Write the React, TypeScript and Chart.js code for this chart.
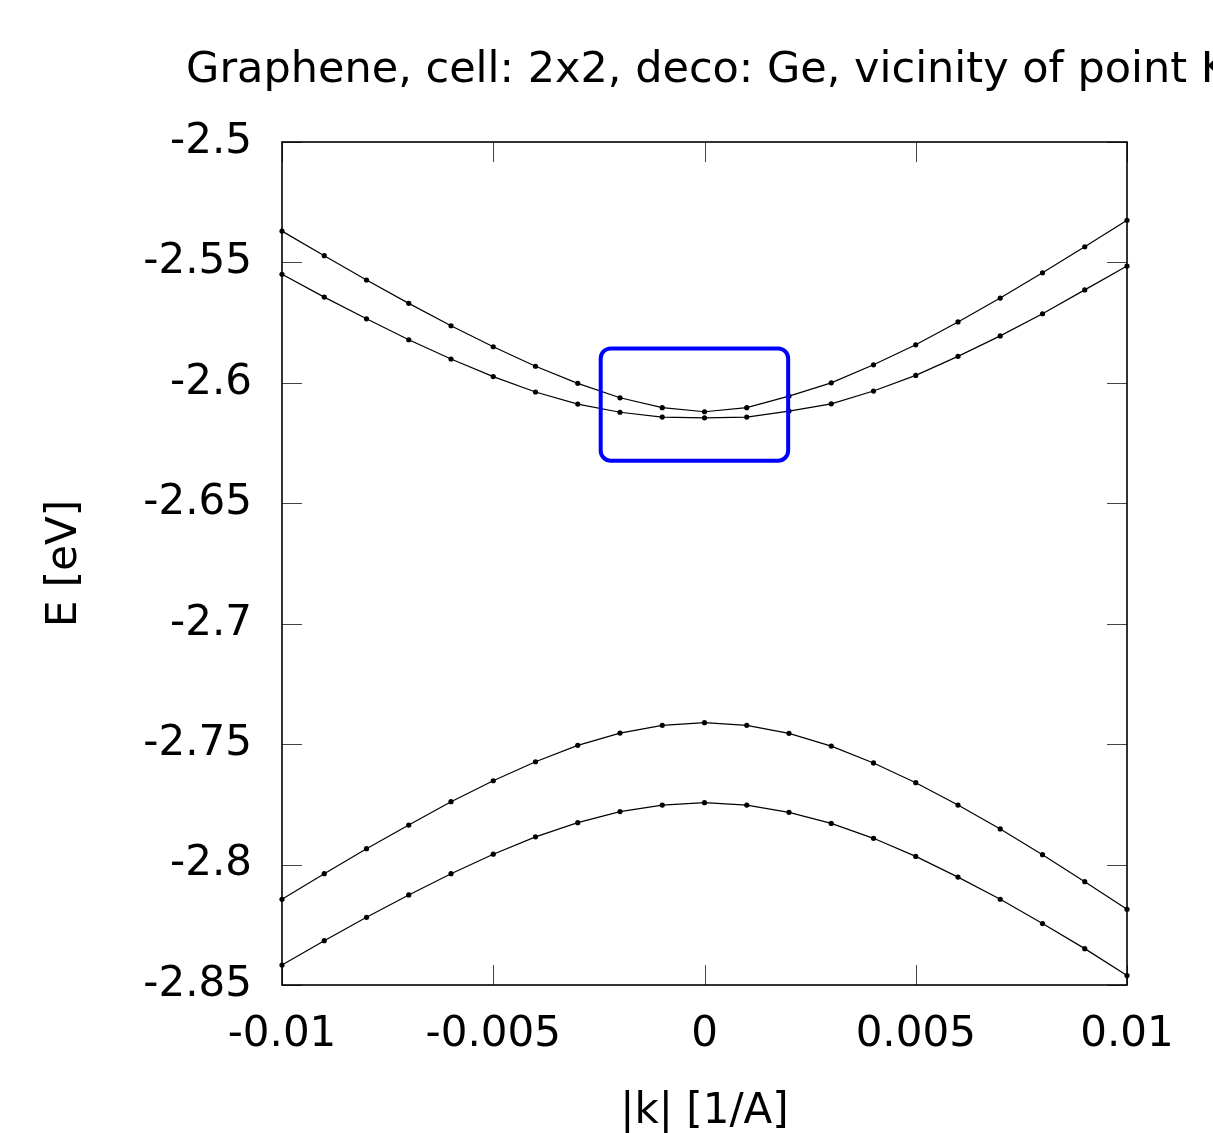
import React, { useEffect, useRef } from "react";
import { Chart, registerables } from "chart.js";

Chart.register(...registerables);

const TITLE = "Graphene, cell: 2x2, deco: Ge, vicinity of point K";
const X_LABEL = "|k| [1/A]";
const Y_LABEL = "E [eV]";

const K = [
  -0.01, -0.009, -0.008, -0.007, -0.006, -0.005, -0.004, -0.003, -0.002, -0.001, 0,
  0.001, 0.002, 0.003, 0.004, 0.005, 0.006, 0.007, 0.008, 0.009, 0.01,
];

const BAND1 = [
  -2.537, -2.5472, -2.5573, -2.567, -2.5763, -2.585, -2.5931, -2.6002, -2.6062, -2.6103, -2.612,
  -2.6103, -2.6055, -2.6, -2.5925, -2.5842, -2.5747, -2.5648, -2.5543, -2.5435, -2.5325,
];
const BAND2 = [
  -2.5549, -2.5644, -2.5734, -2.5821, -2.5901, -2.5974, -2.6038, -2.6088, -2.6122, -2.6142, -2.6145,
  -2.6142, -2.6117, -2.6087, -2.6034, -2.5969, -2.589, -2.5805, -2.5713, -2.5614, -2.5515,
];
const BAND3 = [
  -2.8144, -2.8038, -2.7934, -2.7836, -2.7739, -2.7652, -2.7573, -2.7505, -2.7454, -2.7422, -2.7411,
  -2.7422, -2.7455, -2.7508, -2.7578, -2.766, -2.7753, -2.7852, -2.7959, -2.8071, -2.8186,
];
const BAND4 = [
  -2.8417, -2.8316, -2.8219, -2.8126, -2.8038, -2.7957, -2.7885, -2.7826, -2.778, -2.7753, -2.7743,
  -2.7753, -2.7783, -2.7829, -2.7891, -2.7966, -2.8052, -2.8144, -2.8245, -2.8349, -2.8461,
];

const X_TICKS = [-0.01, -0.005, 0, 0.005, 0.01];
const X_TICK_LABELS = ["-0.01", "-0.005", "0", "0.005", "0.01"];
const Y_TICKS = [-2.85, -2.8, -2.75, -2.7, -2.65, -2.6, -2.55, -2.5];
const Y_TICK_LABELS = ["-2.85", "-2.8", "-2.75", "-2.7", "-2.65", "-2.6", "-2.55", "-2.5"];

// highlight box, in data units: [xMin, xMax], [yMin, yMax]
const BOX_X = [-0.002457, 0.00198];
const BOX_Y = [-2.6323, -2.5857];

const FONT = "DejaVu Sans";
const FONT_SIZE = 42;
const TITLE_SIZE = 43;

const framePlugin = {
  id: "gnuplotFrame",
  beforeDatasetsDraw(chart: any) {
    const { ctx, chartArea } = chart;
    const { left, right, top, bottom } = chartArea;
    const xs = chart.scales.x;
    const ys = chart.scales.y;
    const tl = 20;
    ctx.save();
    ctx.strokeStyle = "#444";
    ctx.lineWidth = 1;
    ctx.beginPath();
    X_TICKS.forEach((v) => {
      const px = Math.round(xs.getPixelForValue(v)) + 0.5;
      ctx.moveTo(px, bottom);
      ctx.lineTo(px, bottom - tl);
      ctx.moveTo(px, top);
      ctx.lineTo(px, top + tl);
    });
    Y_TICKS.forEach((v) => {
      const py = Math.round(ys.getPixelForValue(v)) + 0.5;
      ctx.moveTo(left, py);
      ctx.lineTo(left + tl, py);
      ctx.moveTo(right, py);
      ctx.lineTo(right - tl, py);
    });
    ctx.stroke();
    ctx.strokeStyle = "#000";
    ctx.lineWidth = 1.6;
    ctx.strokeRect(left, top, right - left, bottom - top);
    ctx.restore();
  },
  afterDatasetsDraw(chart: any) {
    const { ctx, chartArea } = chart;
    const xs = chart.scales.x;
    const ys = chart.scales.y;
    const x0 = xs.getPixelForValue(BOX_X[0]);
    const x1 = xs.getPixelForValue(BOX_X[1]);
    const y0 = ys.getPixelForValue(BOX_Y[1]);
    const y1 = ys.getPixelForValue(BOX_Y[0]);
    ctx.save();
    ctx.strokeStyle = "#0000ff";
    ctx.lineWidth = 4;
    ctx.beginPath();
    (ctx as any).roundRect(x0, y0, x1 - x0, y1 - y0, 10);
    ctx.stroke();
    // chart title, centred over the plot area
    ctx.fillStyle = "#000";
    ctx.font = `${TITLE_SIZE}px "${FONT}"`;
    ctx.textAlign = "center";
    ctx.textBaseline = "alphabetic";
    ctx.fillText(TITLE, (chartArea.left + chartArea.right) / 2 + 3, 82);
    ctx.restore();
  },
};

export default function App() {
  const ref = useRef<HTMLCanvasElement | null>(null);

  useEffect(() => {
    if (!ref.current) return;
    const mk = (arr: number[]) => K.map((k, i) => ({ x: k, y: arr[i] }));
    const ds = (arr: number[]) => ({
      data: mk(arr),
      showLine: true,
      borderColor: "#000",
      backgroundColor: "#000",
      borderWidth: 1.2,
      pointRadius: 2.6,
      pointBorderWidth: 0,
      pointBackgroundColor: "#000",
      tension: 0,
      clip: false as any,
    });
    const chart = new Chart(ref.current, {
      type: "scatter",
      data: { datasets: [ds(BAND1), ds(BAND2), ds(BAND3), ds(BAND4)] as any },
      options: {
        animation: false,
        responsive: false,
        devicePixelRatio: 1,
        events: [],
        layout: { padding: { left: 0, right: 86, top: 142, bottom: 0 } },
        plugins: { legend: { display: false }, tooltip: { enabled: false }, title: { display: false } },
        scales: {
          x: {
            type: "linear",
            min: -0.01,
            max: 0.01,
            afterBuildTicks: (s: any) => {
              s.ticks = X_TICKS.map((v) => ({ value: v }));
            },
            afterFit: (s: any) => {
              s.height = 148;
            },
            grid: { display: false, drawTicks: false },
            border: { display: false },
            ticks: {
              padding: 25,
              color: "#000",
              maxRotation: 0,
              autoSkip: false,
              font: { family: FONT, size: FONT_SIZE },
              callback: (v: any) => {
                const i = X_TICKS.findIndex((t) => Math.abs(t - v) < 1e-9);
                return i >= 0 ? X_TICK_LABELS[i] : "";
              },
            },
            title: {
              display: true,
              text: X_LABEL,
              color: "#000",
              padding: 0,
              font: { family: FONT, size: FONT_SIZE, lineHeight: 1 },
            },
          },
          y: {
            type: "linear",
            min: -2.85,
            max: -2.5,
            afterBuildTicks: (s: any) => {
              s.ticks = Y_TICKS.map((v) => ({ value: v }));
            },
            afterFit: (s: any) => {
              s.width = 282;
            },
            grid: { display: false, drawTicks: false },
            border: { display: false },
            ticks: {
              padding: 30,
              color: "#000",
              autoSkip: false,
              font: { family: FONT, size: FONT_SIZE },
              callback: (v: any) => {
                const i = Y_TICKS.findIndex((t) => Math.abs(t - v) < 1e-9);
                return i >= 0 ? Y_TICK_LABELS[i] : "";
              },
            },
            title: {
              display: true,
              text: Y_LABEL,
              color: "#000",
              padding: { top: 44, bottom: 0 },
              font: { family: FONT, size: FONT_SIZE, lineHeight: 1 },
            },
          },
        },
      },
      plugins: [framePlugin],
    });
    return () => chart.destroy();
  }, []);

  return (
    <div style={{ position: "absolute", left: 0, top: 0, width: 1213, height: 1133, background: "#fff" }}>
      <canvas ref={ref} width={1213} height={1133} style={{ display: "block" }} />
    </div>
  );
}
